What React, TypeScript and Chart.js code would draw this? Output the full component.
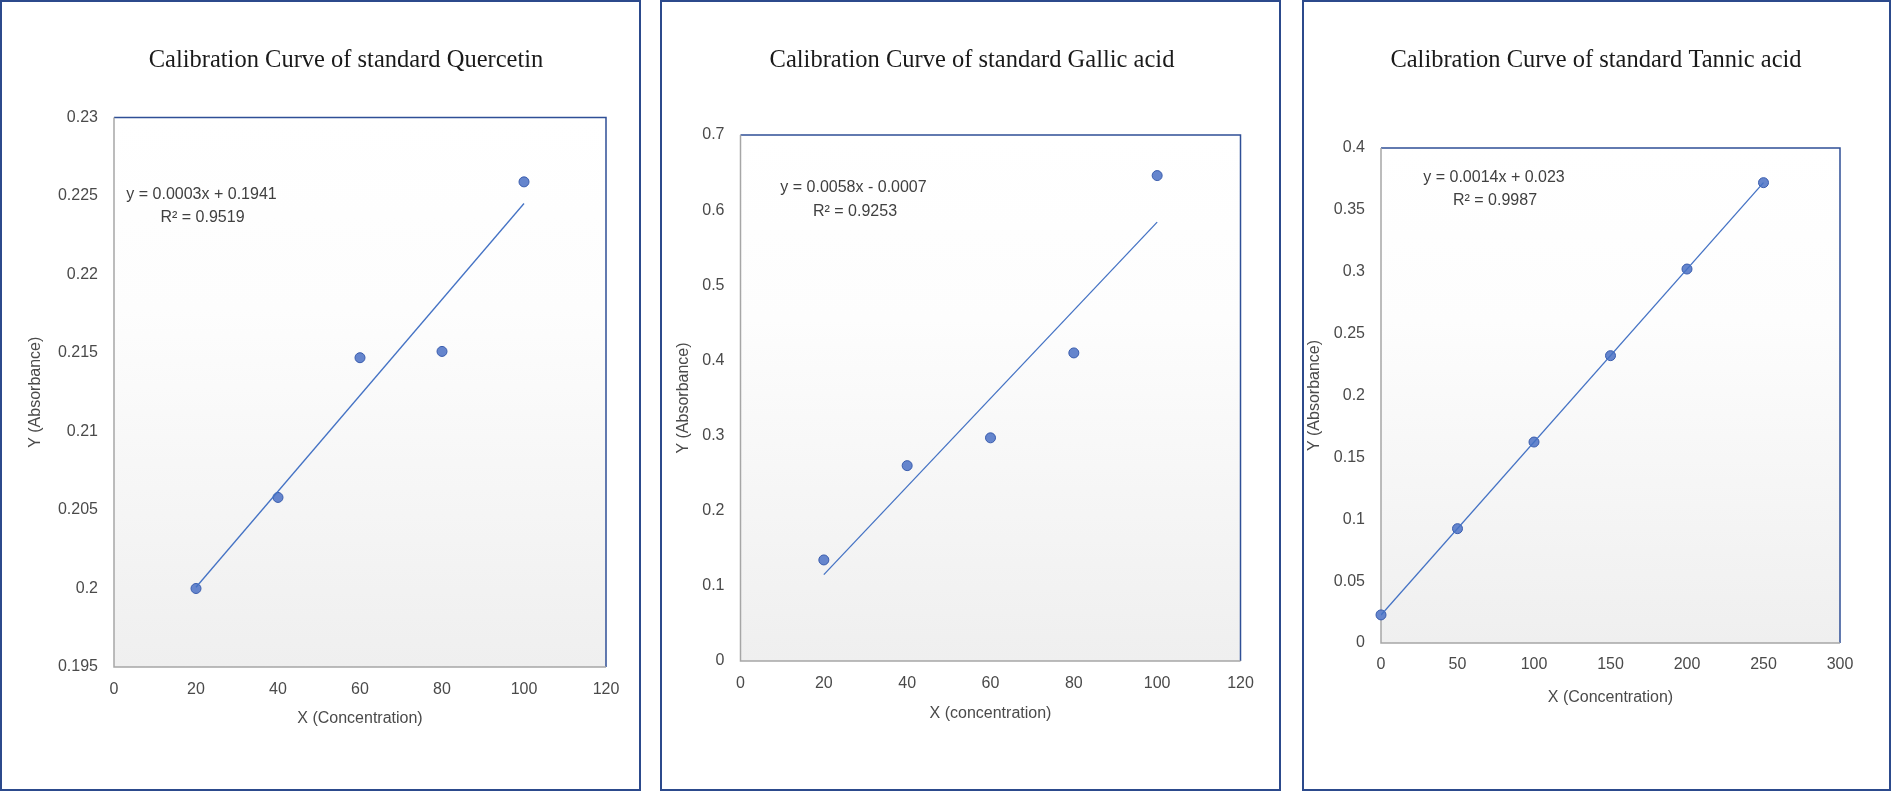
import { Chart, registerables, type ChartConfiguration, type Plugin } from "chart.js";
import { useEffect, useRef } from "react";

Chart.register(...registerables);

// Quercetin standard
const quercetinConc = [20, 40, 60, 80, 100];
const quercetinAbs = [0.2, 0.2058, 0.2147, 0.2151, 0.2259];
const quercetinXTicks = [0, 20, 40, 60, 80, 100, 120];
const quercetinYTicks = [0.195, 0.2, 0.205, 0.21, 0.215, 0.22, 0.225, 0.23];
const quercetinEquation = ["y = 0.0003x + 0.1941", "R² = 0.9519"];

// Gallic acid standard
const gallicConc = [20, 40, 60, 80, 100];
const gallicAbs = [0.1345, 0.26, 0.297, 0.41, 0.646];
const gallicXTicks = [0, 20, 40, 60, 80, 100, 120];
const gallicYTicks = [0, 0.1, 0.2, 0.3, 0.4, 0.5, 0.6, 0.7];
const gallicEquation = ["y = 0.0058x - 0.0007", "R² = 0.9253"];

// Tannic acid standard
const tannicConc = [0, 50, 100, 150, 200, 250];
const tannicAbs = [0.0227, 0.0924, 0.1624, 0.2322, 0.3022, 0.372];
const tannicXTicks = [0, 50, 100, 150, 200, 250, 300];
const tannicYTicks = [0, 0.05, 0.1, 0.15, 0.2, 0.25, 0.3, 0.35, 0.4];
const tannicEquation = ["y = 0.0014x + 0.023", "R² = 0.9987"];

const BORDER = 2;
const PANEL_BORDER = "#2C4A8C";
const SANS = '"Liberation Sans", Arial, sans-serif';
const SERIF = '"Liberation Serif", "DejaVu Serif", serif';
const TEXT = "#4a4a4a";

type PanelSpec = {
  box: { left: number; top: number; width: number; height: number };
  area: { left: number; top: number; right: number; bottom: number };
  title: string;
  titleAt: [number, number];
  xTitle: string;
  xTitleY: number;
  yTitle: string;
  yTitleX: number;
  xTickY: number;
  equation: string[];
  equationAt: [number, number][];
  xs: number[];
  ys: number[];
  xTicks: number[];
  yTicks: number[];
};

const panels: PanelSpec[] = [
  {
    box: { left: 0, top: 0, width: 641, height: 791 },
    area: { left: 112, top: 115.5, right: 604, bottom: 665 },
    title: "Calibration Curve of standard Quercetin",
    titleAt: [344, 59],
    xTitle: "X (Concentration)",
    xTitleY: 717,
    yTitle: "Y (Absorbance)",
    yTitleX: 34,
    xTickY: 688,
    equation: quercetinEquation,
    equationAt: [
      [199.5, 193],
      [200.5, 216],
    ],
    xs: quercetinConc,
    ys: quercetinAbs,
    xTicks: quercetinXTicks,
    yTicks: quercetinYTicks,
  },
  {
    box: { left: 660, top: 0, width: 621, height: 791 },
    area: { left: 78.5, top: 133, right: 578.5, bottom: 659 },
    title: "Calibration Curve of standard Gallic acid",
    titleAt: [310, 59],
    xTitle: "X (concentration)",
    xTitleY: 712,
    yTitle: "Y (Absorbance)",
    yTitleX: 22,
    xTickY: 682,
    equation: gallicEquation,
    equationAt: [
      [191.5, 186],
      [193, 210],
    ],
    xs: gallicConc,
    ys: gallicAbs,
    xTicks: gallicXTicks,
    yTicks: gallicYTicks,
  },
  {
    box: { left: 1302, top: 0, width: 589, height: 791 },
    area: { left: 77, top: 146, right: 536, bottom: 641 },
    title: "Calibration Curve of standard Tannic acid",
    titleAt: [292, 59],
    xTitle: "X (Concentration)",
    xTitleY: 696,
    yTitle: "Y (Absorbance)",
    yTitleX: 11,
    xTickY: 663,
    equation: tannicEquation,
    equationAt: [
      [190, 176],
      [191, 199],
    ],
    xs: tannicConc,
    ys: tannicAbs,
    xTicks: tannicXTicks,
    yTicks: tannicYTicks,
  },
];

function linearFit(xs: number[], ys: number[]) {
  const n = xs.length;
  const mx = xs.reduce((s, v) => s + v, 0) / n;
  const my = ys.reduce((s, v) => s + v, 0) / n;
  let sxy = 0;
  let sxx = 0;
  xs.forEach((x, i) => {
    sxy += (x - mx) * (ys[i] - my);
    sxx += (x - mx) * (x - mx);
  });
  const slope = sxy / sxx;
  return { slope, intercept: my - slope * mx };
}

const fmt = (v: number | string) => String(Math.round(Number(v) * 10000) / 10000);

function buildConfig(spec: PanelSpec): ChartConfiguration<"scatter"> {
  const innerW = spec.box.width - 2 * BORDER;
  const innerH = spec.box.height - 2 * BORDER;
  const fit = linearFit(spec.xs, spec.ys);
  const trend = [spec.xs[0], spec.xs[spec.xs.length - 1]].map((x) => ({
    x,
    y: fit.slope * x + fit.intercept,
  }));
  const fontSize = 16;
  const lineH = fontSize * 1.2;

  const decorations: Plugin<"scatter"> = {
    id: "decorations",
    beforeDraw(chart) {
      const { ctx, chartArea: a } = chart;
      const g = ctx.createLinearGradient(0, a.top, 0, a.bottom);
      g.addColorStop(0, "#ffffff");
      g.addColorStop(0.35, "#fdfdfd");
      g.addColorStop(1, "#efefef");
      ctx.save();
      ctx.fillStyle = g;
      ctx.fillRect(a.left, a.top, a.right - a.left, a.bottom - a.top);
      ctx.restore();
    },
    beforeDatasetsDraw(chart) {
      const { ctx, chartArea: a } = chart;
      ctx.save();
      ctx.lineWidth = 1.5;
      ctx.strokeStyle = "#2F4F96";
      ctx.beginPath();
      ctx.moveTo(a.left, a.top);
      ctx.lineTo(a.right, a.top);
      ctx.lineTo(a.right, a.bottom);
      ctx.stroke();
      ctx.strokeStyle = "#a6a6a6";
      ctx.beginPath();
      ctx.moveTo(a.left, a.top);
      ctx.lineTo(a.left, a.bottom);
      ctx.lineTo(a.right, a.bottom);
      ctx.stroke();
      ctx.restore();
    },
    afterDraw(chart) {
      const { ctx } = chart;
      ctx.save();
      ctx.textAlign = "center";
      ctx.textBaseline = "middle";
      ctx.fillStyle = "#1a1a1a";
      ctx.font = `24.5px ${SERIF}`;
      ctx.fillText(spec.title, spec.titleAt[0], spec.titleAt[1]);
      ctx.fillStyle = "#404040";
      ctx.font = `16px ${SANS}`;
      spec.equation.forEach((line, i) => {
        ctx.fillText(line, spec.equationAt[i][0], spec.equationAt[i][1]);
      });
      ctx.restore();
    },
  };

  return {
    type: "scatter",
    data: {
      datasets: [
        {
          label: "Linear trendline",
          data: trend,
          showLine: true,
          borderColor: "#4472C4",
          borderWidth: 1.3,
          pointRadius: 0,
          fill: false,
        },
        {
          label: "Absorbance",
          data: spec.xs.map((x, i) => ({ x, y: spec.ys[i] })),
          pointRadius: 5,
          pointBackgroundColor: "#6585CD",
          pointBorderColor: "#3A5DAE",
          pointBorderWidth: 1,
          clip: false,
        },
      ],
    },
    options: {
      animation: false,
      responsive: true,
      maintainAspectRatio: false,
      events: [],
      layout: {
        padding: {
          left: 0,
          top: spec.area.top,
          right: innerW - spec.area.right,
          bottom: 0,
        },
      },
      plugins: {
        legend: { display: false },
        tooltip: { enabled: false },
        title: { display: false },
      },
      scales: {
        x: {
          type: "linear",
          min: spec.xTicks[0],
          max: spec.xTicks[spec.xTicks.length - 1],
          afterBuildTicks: (scale) => {
            scale.ticks = spec.xTicks.map((value) => ({ value }));
          },
          afterFit: (scale) => {
            scale.height = innerH - spec.area.bottom;
          },
          grid: { display: false, drawTicks: false },
          border: { display: false },
          ticks: {
            padding: spec.xTickY - spec.area.bottom - lineH / 2,
            color: TEXT,
            font: { family: SANS, size: fontSize },
            maxRotation: 0,
            callback: fmt,
          },
          title: {
            display: true,
            text: spec.xTitle,
            color: TEXT,
            font: { family: SANS, size: fontSize },
            padding: { top: 0, bottom: innerH - spec.xTitleY - lineH / 2 },
          },
        },
        y: {
          type: "linear",
          min: spec.yTicks[0],
          max: spec.yTicks[spec.yTicks.length - 1],
          afterBuildTicks: (scale) => {
            scale.ticks = spec.yTicks.map((value) => ({ value }));
          },
          afterFit: (scale) => {
            scale.width = spec.area.left;
          },
          grid: { display: false, drawTicks: false },
          border: { display: false },
          ticks: {
            padding: 16,
            color: TEXT,
            font: { family: SANS, size: fontSize },
            callback: fmt,
          },
          title: {
            display: true,
            text: spec.yTitle,
            color: TEXT,
            font: { family: SANS, size: fontSize },
            padding: { top: spec.yTitleX - lineH / 2, bottom: 0 },
          },
        },
      },
    },
    plugins: [decorations],
  };
}

function CalibrationPanel({ spec }: { spec: PanelSpec }) {
  const canvasRef = useRef<HTMLCanvasElement | null>(null);

  useEffect(() => {
    if (!canvasRef.current) return;
    const chart = new Chart(canvasRef.current, buildConfig(spec));
    return () => {
      chart.destroy();
    };
  }, [spec]);

  return (
    <div
      style={{
        position: "absolute",
        left: spec.box.left,
        top: spec.box.top,
        width: spec.box.width,
        height: spec.box.height,
        boxSizing: "border-box",
        border: `${BORDER}px solid ${PANEL_BORDER}`,
        background: "#ffffff",
      }}
    >
      <div style={{ position: "relative", width: "100%", height: "100%" }}>
        <canvas ref={canvasRef}></canvas>
      </div>
    </div>
  );
}

export default function App() {
  return (
    <div
      style={{
        position: "absolute",
        left: 0,
        top: 0,
        width: 1891,
        height: 791,
        background: "#ffffff",
      }}
    >
      {panels.map((p) => (
        <CalibrationPanel key={p.title} spec={p} />
      ))}
    </div>
  );
}
